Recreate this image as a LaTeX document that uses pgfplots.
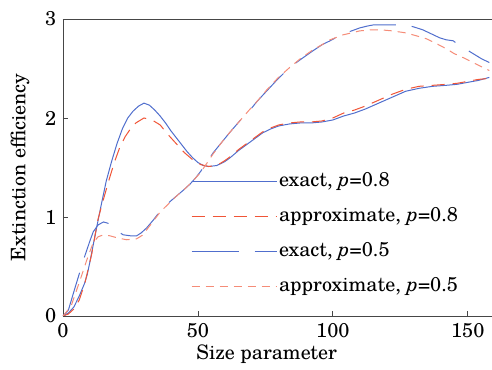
\documentclass[border=0pt]{standalone}
\usepackage{fontspec}
\setmainfont{TeX Gyre Schola}
\usepackage{pgfplots}
\pgfplotsset{compat=1.18}
\definecolor{cblue}{RGB}{80,110,205}
\definecolor{cred}{RGB}{240,85,55}
\definecolor{clred}{RGB}{245,140,120}
\definecolor{axgray}{RGB}{70,70,70}
\begin{document}
\fontsize{20}{23}\selectfont
\begin{tikzpicture}
\begin{axis}[
  scale only axis, width=429pt, height=297pt,
  xmin=0, xmax=159, ymin=0, ymax=3,
  axis x line*=box, axis y line*=left,
  axis line style={axgray, line width=0.8pt},
  tick pos=left, tick align=inside,
  major tick length=5pt,
  tick style={axgray, line width=0.8pt},
  xtick={0,50,100,150}, ytick={0,1,2,3},
  /pgf/number format/assume math mode=true,
  xlabel={Size parameter}, ylabel={Extinction efficiency},
  xlabel style={at={(rel axis cs:0.475,0)}, anchor=base, yshift=-44pt},
  ylabel style={at={(rel axis cs:0,0.5)}, anchor=center, yshift=43pt},
  xticklabel style={yshift=-1pt},
  legend cell align=left,
  legend image code/.code={\draw[line width=1pt,#1] (0pt,0pt) -- (85pt,0pt);},
  legend style={at={(axis cs:47.4,1.47)}, anchor=north west, draw=none, fill=none,
     row sep=14pt, inner sep=0pt, font=\fontsize{20}{23}\selectfont},
  every axis plot/.append style={line width=1pt},
]
\coordinate (ll) at (rel axis cs:0,0);
\coordinate (ur) at (rel axis cs:1,1);
\addplot[cblue, line width=1pt] table {
0 0
2 0.03
4 0.09
6 0.20
8 0.33
9 0.42
10 0.55
12 0.83
14 1.10
16 1.36
18 1.56
20 1.74
22 1.89
24 2.00
26 2.07
28 2.12
30 2.15
32 2.13
34 2.08
36 2.02
38 1.95
40 1.87
42 1.80
44 1.73
46 1.66
48 1.60
50 1.55
52 1.52
54 1.51
57 1.52
60 1.56
62 1.60
65 1.67
68 1.73
71 1.79
74 1.85
77 1.89
80 1.92
84 1.94
88 1.95
92 1.95
96 1.96
100 1.98
104 2.02
108 2.05
112 2.09
117 2.15
122 2.21
127 2.27
132 2.30
137 2.32
142 2.33
146 2.34
150 2.36
154 2.38
158 2.41
};
\addlegendentry{exact, \textit{p}=0.8}
\addplot[cred, line width=1pt, dash pattern=on 13pt off 8pt] table {
0 0
2 0.02
4 0.07
6 0.16
8 0.32
10.6 0.62
13 0.98
15 1.18
17 1.37
19 1.55
21 1.70
23 1.81
25 1.89
27 1.95
30 2.00
33 1.98
36 1.93
39 1.83
42 1.74
45 1.65
48 1.58
51 1.53
54 1.51
57 1.52
60 1.57
62 1.61
65 1.68
68 1.74
71 1.80
74 1.86
77 1.90
80 1.93
84 1.95
88 1.96
92 1.96
96 1.97
100 2.00
104 2.05
108 2.08
112 2.12
117 2.18
122 2.24
127 2.29
132 2.32
137 2.33
142 2.34
146 2.35
150 2.37
154 2.39
158 2.40
};
\addlegendentry{approximate, \textit{p}=0.8}
\addplot[cblue, line width=1pt, dash pattern=on 47pt off 16pt] table {
0 0
2 0.06
4.4 0.28
6.3 0.45
8 0.60
10 0.76
11.2 0.85
13 0.92
15 0.95
17.5 0.93
20 0.86
22.3 0.82
25 0.81
27.3 0.81
29 0.84
31 0.89
33.5 0.97
36 1.06
39 1.14
42 1.21
45 1.28
47 1.33
49 1.39
51 1.46
53 1.54
55.7 1.65
59 1.76
62 1.86
65.5 1.97
69 2.07
72 2.17
75.4 2.27
79.5 2.39
84 2.51
88 2.59
92.7 2.68
96 2.74
99 2.78
103.8 2.85
107 2.88
110 2.91
113 2.93
115 2.94
121 2.94
127 2.94
130 2.92
133.4 2.89
136.5 2.85
139.6 2.81
142 2.79
144.6 2.78
147 2.73
149 2.70
152 2.65
155 2.60
158 2.56
};
\addlegendentry{exact, \textit{p}=0.5}
\addplot[clred, line width=1pt, dash pattern=on 8pt off 6pt] table {
0 0
3 0.10
6.3 0.36
9 0.58
11.2 0.74
13 0.80
15 0.82
17.4 0.81
20 0.79
23.6 0.77
27.3 0.78
29.7 0.82
31 0.87
33.5 0.96
36 1.05
39 1.13
42 1.21
45 1.28
48 1.36
51 1.45
53 1.53
55.7 1.64
59 1.76
62 1.86
65.5 1.97
69 2.08
72 2.17
75.4 2.28
79.5 2.40
84 2.51
88 2.60
92.7 2.69
96 2.74
99 2.79
103.8 2.84
107 2.86
110 2.88
114 2.89
118 2.89
122 2.88
127 2.86
131 2.83
134.7 2.80
138.5 2.75
142 2.70
145 2.65
148.3 2.61
152 2.56
155.7 2.51
158 2.48
};
\addlegendentry{approximate, \textit{p}=0.5}
\end{axis}
\pgfresetboundingbox
\path[use as bounding box] ([xshift=-63pt,yshift=-54pt]ll) rectangle ([yshift=19pt]ur);
\end{tikzpicture}
\end{document}
